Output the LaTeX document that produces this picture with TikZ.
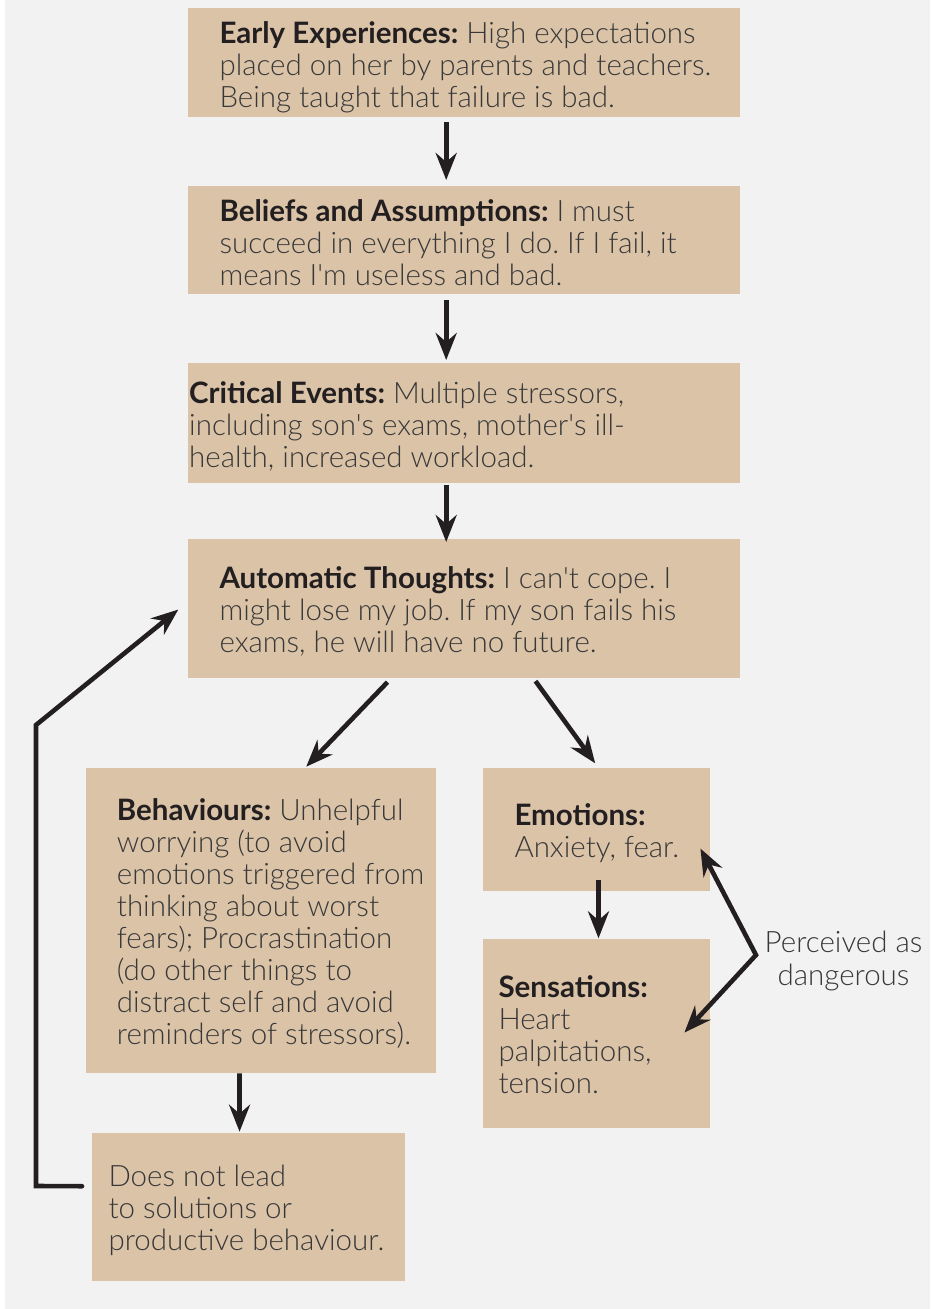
\documentclass[tikz,border=0pt]{standalone}
\usepackage{fontspec}
\setmainfont{Lato}
\newfontfamily\latolight{Lato Light}
\usetikzlibrary{arrows.meta}

\definecolor{pagebg}{HTML}{F2F2F2}
\definecolor{boxtan}{HTML}{DBC3A8}
\definecolor{ink}{HTML}{231F20}
\definecolor{bodygray}{HTML}{383838}

% bold heading inside a box
\newcommand{\hd}[1]{{\fontspec{Lato}\bfseries\color{ink}#1}}
% stacked lines with their baselines 32pt apart; baseline = first line
\newcommand{\stack}[1]{\vtop{\baselineskip=32pt\lineskiplimit=-20pt\halign{##\hfil\cr#1\crcr}}}
\newcommand{\cstack}[1]{\vtop{\baselineskip=33pt\lineskiplimit=-20pt\halign{\hfil##\hfil\cr#1\crcr}}}

\tikzset{
  box/.style={fill=boxtan, draw=none, inner sep=0pt, anchor=north west},
  txt/.style={inner sep=0pt, anchor=base west, text=bodygray,
              font=\latolight\fontsize{29.5pt}{32pt}\selectfont\frenchspacing},
  arr/.style={draw=ink, line width=4.6pt,
              -{Stealth[length=27pt,width=21pt,inset=9pt]}},
  twoway/.style={draw=ink, line width=4.6pt, line join=miter,
              {Stealth[length=27pt,width=21pt,inset=9pt]}-{Stealth[length=27pt,width=21pt,inset=9pt]}},
}

\begin{document}
\begin{tikzpicture}[x=1pt,y=-1pt]
  % page
  \fill[white] (0,0) rectangle (930,1309);
  \fill[pagebg] (5,0) rectangle (930,1309);
  \useasboundingbox (0,0) rectangle (930,1309);

  % boxes
  \node[box, minimum width=552pt, minimum height=108.7pt] (early)  at (188,8)   {};
  \node[box, minimum width=552pt, minimum height=108pt]   (belief) at (188,186) {};
  \node[box, minimum width=552pt, minimum height=120pt]   (crit)   at (188,363) {};
  \node[box, minimum width=552pt, minimum height=138.7pt] (auto)   at (188,539) {};
  \node[box, minimum width=350pt, minimum height=305pt]   (behav)  at (86,768)  {};
  \node[box, minimum width=227pt, minimum height=122.7pt] (emo)    at (483,768) {};
  \node[box, minimum width=227pt, minimum height=188.7pt] (sens)   at (483,939) {};
  \node[box, minimum width=312.7pt, minimum height=148pt] (nolead) at (92,1133) {};

  % texts
  \node[txt] (earlyT) at (219.3,43.3) {\stack{\hd{Early Experiences:} High expectations\cr
      placed on her by parents and teachers.\cr Being taught that failure is bad.}};
  \node[txt] (beliefT) at (219.3,221) {\stack{\hd{Beliefs and Assumptions:} I must\cr
      succeed in everything I do. If I fail, it\cr means I'm useless and bad.}};
  \node[txt] (critT) at (189,403.3) {\stack{\hd{Critical Events:} Multiple stressors,\cr
      including son's exams, mother's ill-\cr health, increased workload.}};
  \node[txt] (autoT) at (219.3,588.3) {\stack{\hd{Automatic Thoughts:} I can't cope. I\cr
      might lose my job. If my son fails his\cr exams, he will have no future.}};
  \node[txt] (behavT) at (116.7,820.7) {\stack{\hd{Behaviours:} Unhelpful\cr
      worrying (to avoid\cr emotions triggered from\cr thinking about worst\cr
      fears); Procrastination\cr (do other things to\cr distract self and avoid\cr
      reminders of stressors).}};
  \node[txt] (emoT) at (514.3,825) {\stack{\hd{Emotions:}\cr Anxiety, fear.}};
  \node[txt] (sensT) at (498.3,997.3) {\stack{\hd{Sensations:}\cr Heart\cr palpitations,\cr tension.}};
  \node[txt] (noleadT) at (108.3,1186) {\stack{Does not lead\cr to solutions or\cr productive behaviour.}};
  \node[txt, anchor=base] (danger) at (843.5,952.7) {\cstack{Perceived as\cr dangerous}};

  % main chain
  \draw[arr] ([xshift=-18pt,yshift=-5pt]early.south)  -- ([xshift=-18pt,yshift=6pt]belief.north);
  \draw[arr] ([xshift=-18pt,yshift=-6pt]belief.south) -- ([xshift=-18pt,yshift=3pt]crit.north);
  \draw[arr] ([xshift=-18pt,yshift=-2pt]crit.south)   -- ([xshift=-18pt,yshift=-3pt]auto.north);

  % branches
  \draw[arr] ([xshift=-76.7pt,yshift=-4pt]auto.south) -- ([xshift=45pt,yshift=1.3pt]behav.north);
  \draw[arr] ([xshift=71.3pt,yshift=-3pt]auto.south)  -- ([xshift=-1.5pt,yshift=4.7pt]emo.north);
  \draw[arr] ([xshift=1.8pt,yshift=11.4pt]emo.south)  -- ([xshift=1.8pt,yshift=0.7pt]sens.north);
  \draw[arr] ([xshift=-21.7pt]behav.south)            -- ([xshift=-9pt,yshift=1.3pt]nolead.north);

  % perceived danger loop
  \coordinate (bend) at (756,955);
  \draw[twoway] ([xshift=-10pt,yshift=-19pt]emo.east) -- (bend) -- ([xshift=-26pt,yshift=1pt]sens.east);

  % feedback to automatic thoughts
  \coordinate (fbLow)  at (36,1186);
  \coordinate (fbHigh) at (36,725);
  \draw[arr, line cap=round] ([xshift=-10pt,yshift=21pt]nolead.west) -- (fbLow) -- (fbHigh)
       -- ([xshift=-9.7pt,yshift=-1pt]auto.west);
\end{tikzpicture}
\end{document}
